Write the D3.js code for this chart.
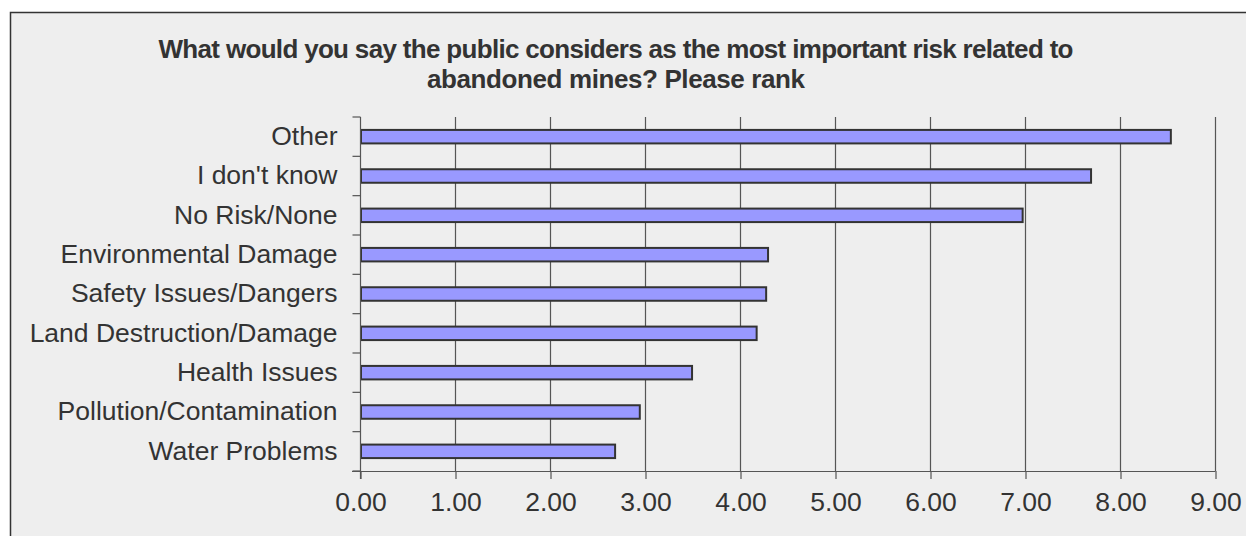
<!DOCTYPE html>
<html>
<head>
<meta charset="utf-8">
<script src="https://cdn.jsdelivr.net/npm/d3@7"></script>
<style>
html,body{margin:0;padding:0;background:#fff;}
svg{display:block;}
</style>
</head>
<body>
<svg id="chart" width="1246" height="536"></svg>
<script>
const categories = ["Other","I don't know","No Risk/None","Environmental Damage","Safety Issues/Dangers","Land Destruction/Damage","Health Issues","Pollution/Contamination","Water Problems"];
const values = [8.53, 7.69, 6.97, 4.29, 4.27, 4.17, 3.49, 2.94, 2.68];
const xTicks = [0,1,2,3,4,5,6,7,8,9];
const titleLines = ["What would you say the public considers as the most important risk related to","abandoned mines? Please rank"];

const svg = d3.select("#chart");
const font = "'Liberation Sans', Arial, sans-serif";
const ink = "#333";

// frame
svg.append("rect").attr("x",10.5).attr("y",12.5).attr("width",1400).attr("height",700)
  .attr("fill","#eeeeee").attr("stroke",ink).attr("stroke-width",1.5);

const x = d3.scaleLinear().domain([0,9]).range([360.5,1215.5]);
const y = d3.scaleBand().domain(categories).range([117,471]).padding(0);

// title
const tl = svg.append("g").attr("font-family",font).attr("font-weight","bold").attr("font-size",26).attr("fill",ink);
tl.append("text").attr("x",616).attr("y",58).attr("text-anchor","middle")
  .attr("textLength",915).attr("lengthAdjust","spacing").text(titleLines[0]);
tl.append("text").attr("x",616).attr("y",88).attr("text-anchor","middle")
  .attr("textLength",378).attr("lengthAdjust","spacing").text(titleLines[1]);

// gridlines
svg.append("g").selectAll("line").data(xTicks.filter(d=>d>0)).join("line")
  .attr("x1",d=>x(d)).attr("x2",d=>x(d)).attr("y1",117).attr("y2",471)
  .attr("stroke","#555").attr("stroke-width",1.2);

// bars
const bh = 13.5;
svg.append("g").selectAll("rect").data(categories).join("rect")
  .attr("x",x(0)+0.5)
  .attr("y",(d)=>y(d)+y.bandwidth()/2-bh/2)
  .attr("width",(d,i)=>x(values[i])-x(0)-0.5)
  .attr("height",bh)
  .attr("fill","#9999ff").attr("stroke",ink).attr("stroke-width",2);

// x axis
const xAxis = d3.axisBottom(x).tickValues(xTicks).tickFormat(d3.format(".2f")).tickSize(8).tickPadding(13);
const gx = svg.append("g").attr("transform","translate(0,471)").call(xAxis);
gx.select(".domain").remove();
gx.append("line").attr("x1",352).attr("x2",x(9)).attr("y1",0.5).attr("y2",0.5).attr("stroke","#555").attr("stroke-width",1.2);
gx.selectAll(".tick line").attr("stroke","#555").attr("stroke-width",1.2);
gx.selectAll(".tick text").attr("font-family",font).attr("font-size",26.5).attr("fill",ink);

// y axis
const yAxis = d3.axisLeft(y).tickSize(0).tickPadding(23);
const gy = svg.append("g").attr("transform",`translate(${x(0)},0)`).call(yAxis);
gy.select(".domain").remove();
gy.append("line").attr("x1",0).attr("x2",0).attr("y1",117).attr("y2",479).attr("stroke","#555").attr("stroke-width",1.2);
gy.selectAll(".tick text").attr("font-family",font).attr("font-size",26.5).attr("fill",ink);
// category boundary ticks
const bounds = categories.map(c=>y(c)).concat([471]);
gy.append("g").selectAll("line").data(bounds).join("line")
  .attr("x1",-8).attr("x2",0).attr("y1",d=>d).attr("y2",d=>d)
  .attr("stroke","#555").attr("stroke-width",1.2);
</script>
</body>
</html>
